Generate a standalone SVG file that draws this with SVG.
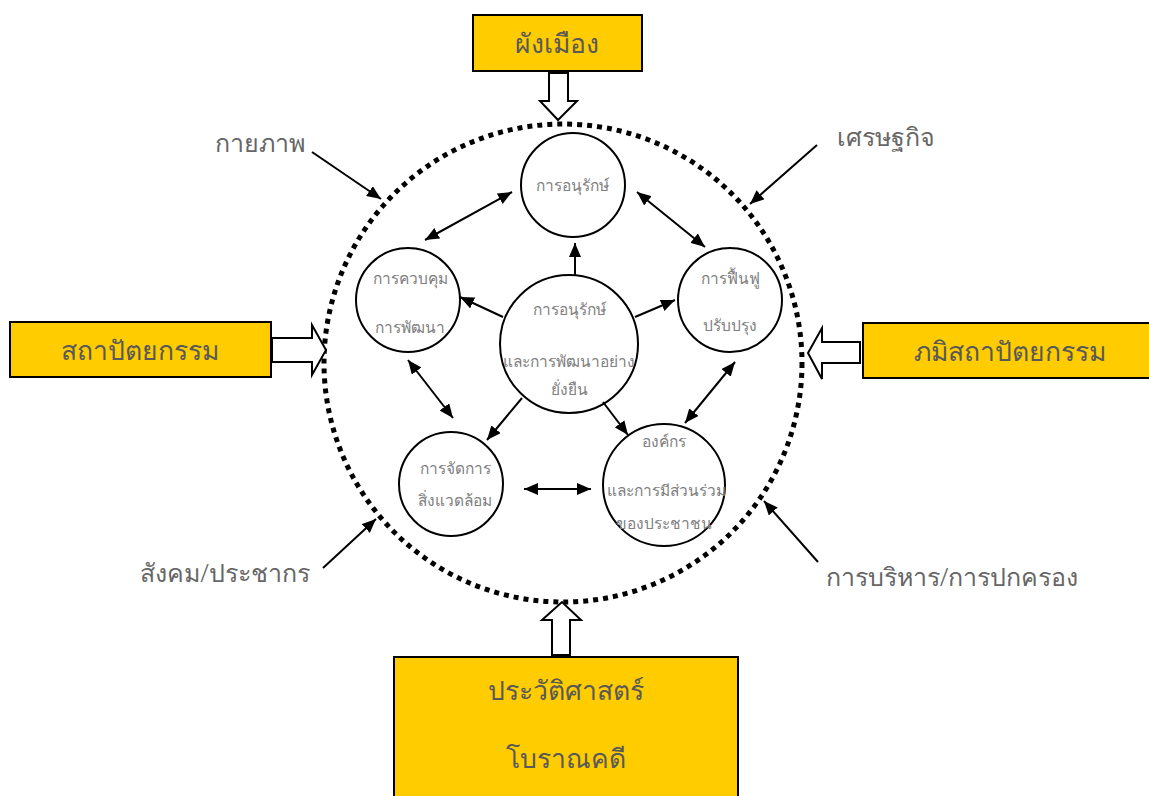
<svg xmlns="http://www.w3.org/2000/svg" width="1149" height="796" viewBox="0 0 1149 796">
<style>
.box{fill:#FFCC00;stroke:#000;stroke-width:2}
.bt{font-family:"Noto Sans",sans-serif;font-size:26.5px;font-weight:300;fill:#595959;text-anchor:middle}
.ot{font-family:"Noto Sans",sans-serif;font-size:25px;font-weight:300;fill:#666;text-anchor:middle}
.it{font-family:"Noto Sans",sans-serif;font-size:15.5px;font-weight:300;fill:#808080;text-anchor:middle}
.nc{fill:#fff;stroke:#000;stroke-width:2}
.ln{stroke:#000;stroke-width:2;fill:none}
.ha{fill:#fff;stroke:#000;stroke-width:2}
</style>
<defs>
<marker id="a" viewBox="0 0 14 12" refX="14" refY="6" markerWidth="14" markerHeight="12" markerUnits="userSpaceOnUse" orient="auto-start-reverse">
<path d="M0,0 L14,6 L0,12 z" fill="#000"/>
</marker>
</defs>
<rect width="1149" height="796" fill="#fff"/>
<circle id="ring" cx="563" cy="363" r="239" fill="none" stroke="#000" stroke-width="5" stroke-dasharray="5 5"/>

<g id="box-top"><rect class="box" x="473" y="15" width="169" height="56"/><text class="bt" x="557" y="53">ผังเมือง</text></g>
<g id="box-left"><rect class="box" x="10" y="322" width="261" height="55"/><text class="bt" x="140" y="360">สถาปัตยกรรม</text></g>
<g id="box-right"><rect class="box" x="863" y="323" width="290" height="55"/><text class="bt" x="1010" y="361">ภมิสถาปัตยกรรม</text></g>
<g id="box-bottom"><rect class="box" x="394" y="657" width="344" height="145"/><text class="bt" x="566" y="700">ประวัติศาสตร์</text><text class="bt" x="566" y="768">โบราณคดี</text></g>

<g id="label-physical"><text class="ot" x="260" y="152">กายภาพ</text></g>
<g id="label-economy"><text class="ot" x="886" y="146">เศรษฐกิจ</text></g>
<g id="label-society"><text class="ot" x="225" y="582">สังคม/ประชากร</text></g>
<g id="label-admin"><text class="ot" x="952" y="586">การบริหาร/การปกครอง</text></g>

<g id="n-center"><circle class="nc" cx="569" cy="344" r="69"/><text class="it" x="569" y="315">การอนุรักษ์</text><text class="it" x="569" y="367">และการพัฒนาอย่าง</text><text class="it" x="569" y="395">ยั่งยืน</text></g>
<g id="n-top"><circle class="nc" cx="573" cy="185" r="52"/><text class="it" x="572" y="191">การอนุรักษ์</text></g>
<g id="n-left"><circle class="nc" cx="408" cy="300" r="52"/><text class="it" x="410" y="284">การควบคุม</text><text class="it" x="410" y="333">การพัฒนา</text></g>
<g id="n-right"><circle class="nc" cx="730" cy="300" r="52"/><text class="it" x="730" y="284">การฟื้นฟู</text><text class="it" x="730" y="331">ปรับปรุง</text></g>
<g id="n-bl"><circle class="nc" cx="451" cy="484" r="52"/><text class="it" x="455" y="474">การจัดการ</text><text class="it" x="455" y="506">สิ่งแวดล้อม</text></g>
<g id="n-br"><circle class="nc" cx="664" cy="485" r="61"/><text class="it" x="664" y="447">องค์กร</text><text class="it" x="666" y="496">และการมีส่วนร่วม</text><text class="it" x="664" y="529">ของประชาชน</text></g>

<g id="connectors">
<path class="ha" d="M549,73 V101 H540 L558,120 L577,101 H568 V73 Z"/>
<path class="ha" d="M272,338 H312 V325 L326,350 L312,375 V362 H272 Z"/>
<path class="ha" d="M860,342 H822 V328 L808,353 L822,379 V363 H860 Z"/>
<path class="ha" d="M552,655 V620 H542 L562,602 L581,620 H570 V655 Z"/>

<line class="ln" x1="312" y1="152" x2="381" y2="199" marker-end="url(#a)"/>
<line class="ln" x1="817" y1="145" x2="750" y2="204" marker-end="url(#a)"/>
<line class="ln" x1="323" y1="568" x2="376" y2="519" marker-end="url(#a)"/>
<line class="ln" x1="818" y1="562" x2="764" y2="501" marker-end="url(#a)"/>

<line class="ln" x1="575" y1="275" x2="575" y2="243" marker-end="url(#a)"/>
<line class="ln" x1="503" y1="317" x2="460" y2="297" marker-end="url(#a)"/>
<line class="ln" x1="635" y1="317" x2="675" y2="300" marker-end="url(#a)"/>
<line class="ln" x1="522" y1="398" x2="487" y2="440" marker-end="url(#a)"/>
<line class="ln" x1="603" y1="402" x2="628" y2="435" marker-end="url(#a)"/>

<line class="ln" x1="425" y1="240" x2="512" y2="192" marker-start="url(#a)" marker-end="url(#a)"/>
<line class="ln" x1="637" y1="192" x2="705" y2="247" marker-start="url(#a)" marker-end="url(#a)"/>
<line class="ln" x1="408" y1="360" x2="453" y2="418" marker-start="url(#a)" marker-end="url(#a)"/>
<line class="ln" x1="735" y1="362" x2="685" y2="423" marker-start="url(#a)" marker-end="url(#a)"/>
<line class="ln" x1="524" y1="489" x2="591" y2="489" marker-start="url(#a)" marker-end="url(#a)"/>
</g>
</svg>
